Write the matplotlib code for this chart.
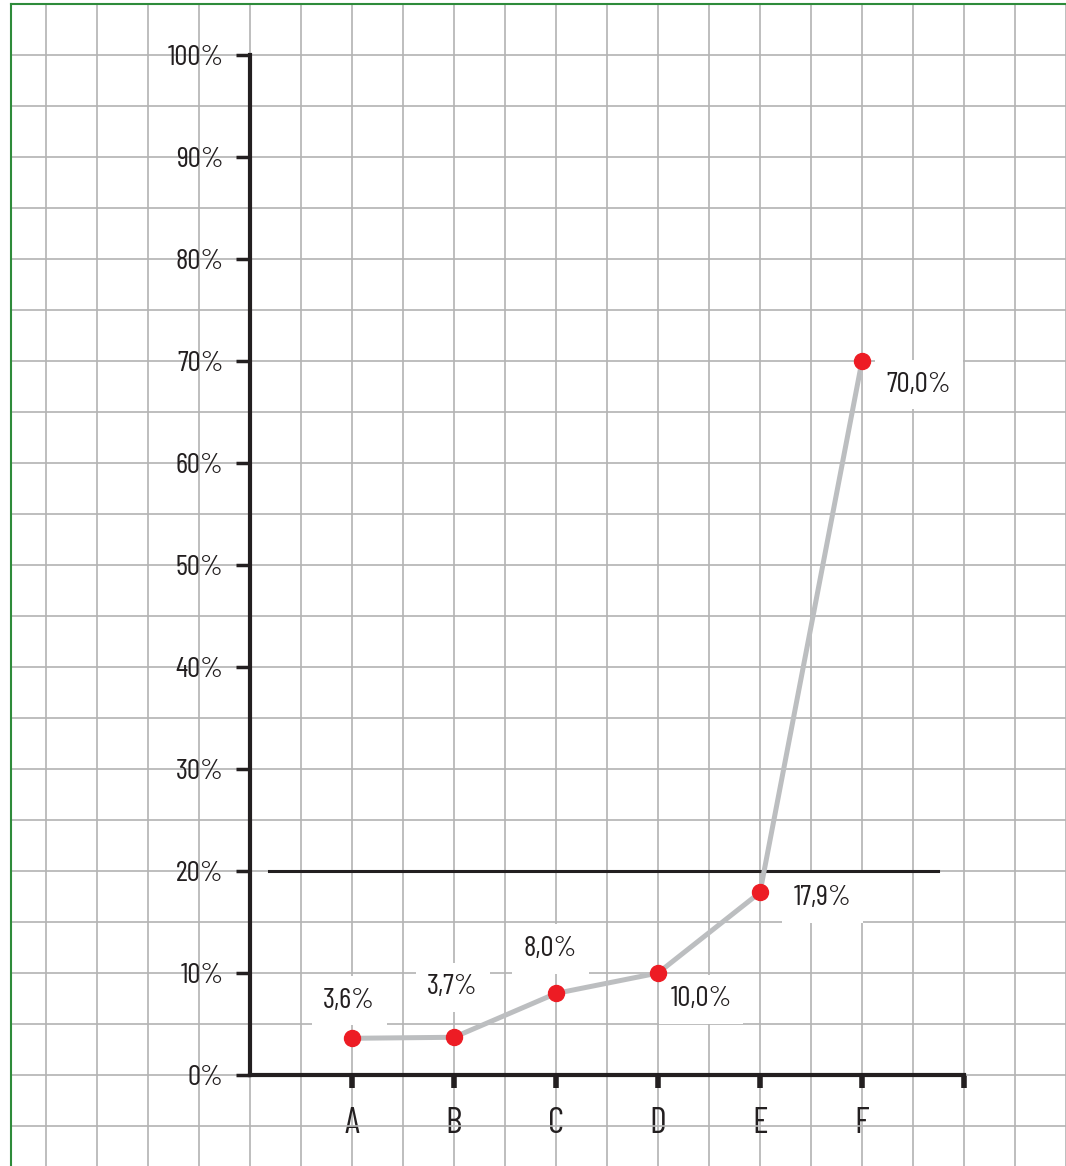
import numpy as np
import matplotlib
matplotlib.use("Agg")
import matplotlib.pyplot as plt
from matplotlib.lines import Line2D

plt.rcParams['font.family'] = ['Barlow Condensed', 'DejaVu Sans']

categories = ['A', 'B', 'C', 'D', 'E', 'F']
values = [3.6, 3.7, 8.0, 10.0, 17.9, 70.0]
value_labels = ['3,6%', '3,7%', '8,0%', '10,0%', '17,9%', '70,0%']
threshold = 20
yticks = list(range(0, 101, 10))
ytick_labels = [f'{t}%' for t in yticks]

# label offsets in points (dx, dy) from each point
offsets = [(-2, 27), (-1, 36), (-4, 32), (31, -19), (45, -4), (41, -17)]

ink = '#231f20'
fig = plt.figure(figsize=(10.66, 11.66), dpi=100)
ax = fig.add_axes([11 / 1066, 0, 1055 / 1066, 1162 / 1166])
ax.set_xlim(-2.343, 8.0)
ax.set_ylim(-8.92, 105.0)

# background grid every half step
ax.set_xticks(np.arange(-2, 8.01, 0.5), minor=True)
ax.set_yticks(np.arange(-5, 105.1, 5), minor=True)
ax.grid(True, which='both', color='#b3b3b3', linewidth=1.2)
ax.tick_params(which='minor', length=0)
ax.set_axisbelow(True)

# axis spines at data zero
for s in ['right', 'top']:
    ax.spines[s].set_visible(False)
ax.spines['left'].set_position(('data', 0))
ax.spines['left'].set_bounds(0, 100)
ax.spines['bottom'].set_position(('data', 0))
ax.spines['bottom'].set_bounds(0, 7)
for s in ['left', 'bottom']:
    ax.spines[s].set_color(ink)
    ax.spines[s].set_linewidth(3)

ax.set_yticks(yticks)
ax.set_yticklabels(ytick_labels)
ax.set_xticks(range(1, 8))
ax.set_xticklabels(categories + [''])
ax.tick_params(axis='y', which='major', direction='out', length=10, width=2.5,
               color=ink, labelcolor=ink, labelsize=21, pad=9)
ax.tick_params(axis='x', which='major', direction='out', length=9, width=4,
               color=ink, labelcolor=ink, labelsize=26, pad=14)

# value labels sit on white boxes that hide the grid, under the lines
x = np.arange(1, len(values) + 1)
for xi, v, lab, (dx, dy) in zip(x, values, value_labels, offsets):
    ax.annotate(lab, (xi, v), xytext=(dx, dy), textcoords='offset points',
                ha='center', va='center', fontsize=21, color=ink, zorder=1,
                bbox=dict(boxstyle='square,pad=0.4', fc='white', ec='none'))

# threshold line
ax.plot([0.19, 6.75], [threshold, threshold], color=ink, linewidth=2.2, zorder=3)

ax.plot(x, values, color='#bcbec0', linewidth=3.6, zorder=4)
ax.plot(x, values, 'o', color='#ed1c24', markersize=11.5, zorder=5)

# green frame on left and top
fig.add_artist(Line2D([11 / 1066, 11 / 1066], [0, 1162 / 1166], color='#2e8b3a', linewidth=1.5))
fig.add_artist(Line2D([11 / 1066, 1], [1162 / 1166, 1162 / 1166], color='#2e8b3a', linewidth=1.5))

fig.savefig('out.png', dpi=100)
